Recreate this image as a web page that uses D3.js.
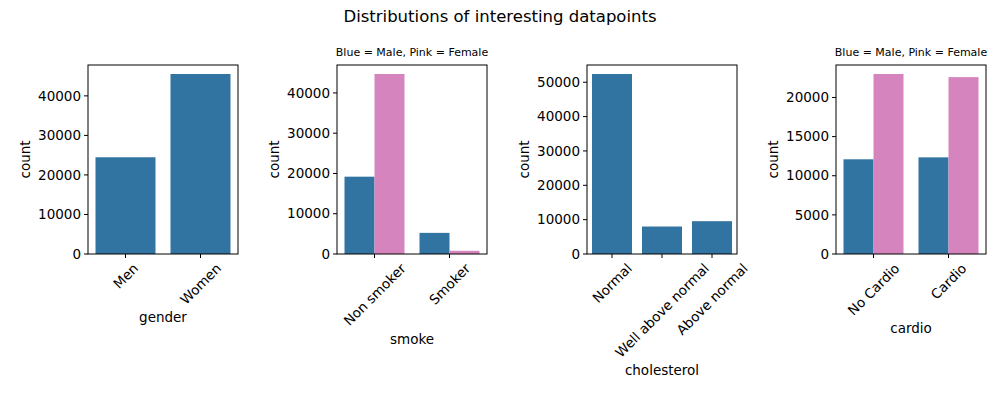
<!DOCTYPE html>
<html>
<head>
<meta charset="UTF-8">
<style>
  * {padding:0; margin:0;}
  body {background:#fff;}
  text {font-family:"DejaVu Sans", sans-serif; fill:#000;}
</style>
</head>
<body>
<script src="https://cdn.jsdelivr.net/npm/d3@7"></script>
<svg id="chart" width="1000" height="400"></svg>
<script>
// data
var genderCats = ["Men", "Women"];
var genderCounts = [24470, 45530];
var smokeCats = ["Non smoker", "Smoker"];
var smokeMale = [19200, 5250];
var smokeFemale = [44700, 800];
var cholCats = ["Normal", "Well above normal", "Above normal"];
var cholCounts = [52400, 8000, 9550];
var cardioCats = ["No Cardio", "Cardio"];
var cardioMale = [12100, 12350];
var cardioFemale = [23000, 22600];

var blue = "#3274a1", pink = "#d684bd";
var svg = d3.select("#chart");

svg.append("text").attr("x", 500).attr("y", 22).attr("text-anchor", "middle")
  .style("font-size", "16.5px").text("Distributions of interesting datapoints");

// panels: left edge, categories, series, xlabel, subtitle, ticks
var panels = [
  {x: 88, cats: genderCats, series: [genderCounts], label: "gender", sub: null, ticks: [0, 10000, 20000, 30000, 40000]},
  {x: 337, cats: smokeCats, series: [smokeMale, smokeFemale], label: "smoke", sub: "Blue = Male, Pink = Female", ticks: [0, 10000, 20000, 30000, 40000]},
  {x: 587, cats: cholCats, series: [cholCounts], label: "cholesterol", sub: null, ticks: [0, 10000, 20000, 30000, 40000, 50000]},
  {x: 836, cats: cardioCats, series: [cardioMale, cardioFemale], label: "cardio", sub: "Blue = Male, Pink = Female", ticks: [0, 5000, 10000, 15000, 20000]}
];
var pw = 150, plotTop = 65, plotBottom = 254;

panels.forEach(function(p) {
  var g = svg.append("g").attr("transform", "translate(" + p.x + ",0)");
  var maxV = d3.max(p.series, function(s) { return d3.max(s); });
  var y = d3.scaleLinear().domain([0, maxV * 1.05]).range([plotBottom, plotTop]);
  var x = d3.scaleLinear().domain([-0.5, p.cats.length - 0.5]).range([0, pw]);
  var ns = p.series.length, bw = 0.8 / ns;
  var colors = ns === 1 ? [blue] : [blue, pink];

  p.series.forEach(function(s, si) {
    g.selectAll(".b" + si).data(s).enter().append("rect")
      .attr("x", function(d, i) { return x(i - 0.4 + si * bw); })
      .attr("width", x(bw) - x(0))
      .attr("y", function(d) { return y(d); })
      .attr("height", function(d) { return plotBottom - y(d); })
      .attr("fill", colors[si]);
  });

  g.append("rect").attr("x", 0).attr("y", plotTop).attr("width", pw).attr("height", plotBottom - plotTop)
    .attr("fill", "none").attr("stroke", "#000").attr("stroke-width", 1);

  // y axis
  p.ticks.forEach(function(t) {
    g.append("line").attr("x1", -4).attr("x2", 0).attr("y1", y(t)).attr("y2", y(t)).attr("stroke", "#000");
    g.append("text").attr("x", -7).attr("y", y(t)).attr("dy", "0.35em").attr("text-anchor", "end")
      .style("font-size", "13.5px").text(t);
  });
  var maxW = d3.max(p.ticks, function(t) { return String(t).length; }) * 8.6;
  g.append("text").attr("transform", "translate(" + (-maxW - 15) + "," + ((plotTop + plotBottom) / 2) + ") rotate(-90)")
    .attr("text-anchor", "middle").style("font-size", "13.5px").text("count");

  // x axis, labels rotated 45
  var lowest = plotBottom;
  p.cats.forEach(function(c, i) {
    var cx = x(i);
    g.append("line").attr("x1", cx).attr("x2", cx).attr("y1", plotBottom).attr("y2", plotBottom + 4).attr("stroke", "#000");
    var t = g.append("text").attr("text-anchor", "middle").attr("dominant-baseline", "central")
      .style("font-size", "13.5px").text(c);
    var w = t.node().getComputedTextLength();
    var h = (w + 13.5) * Math.SQRT1_2;
    var cy = plotBottom + 7 + h / 2;
    t.attr("transform", "translate(" + cx + "," + cy + ") rotate(-45)");
    lowest = Math.max(lowest, plotBottom + 7 + h);
  });
  g.append("text").attr("x", pw / 2).attr("y", lowest + 16).attr("text-anchor", "middle")
    .style("font-size", "13.5px").text(p.label);

  if (p.sub) {
    g.append("text").attr("x", pw / 2).attr("y", plotTop - 9).attr("text-anchor", "middle")
      .style("font-size", "11px").text(p.sub);
  }
});
</script>
</body>
</html>
